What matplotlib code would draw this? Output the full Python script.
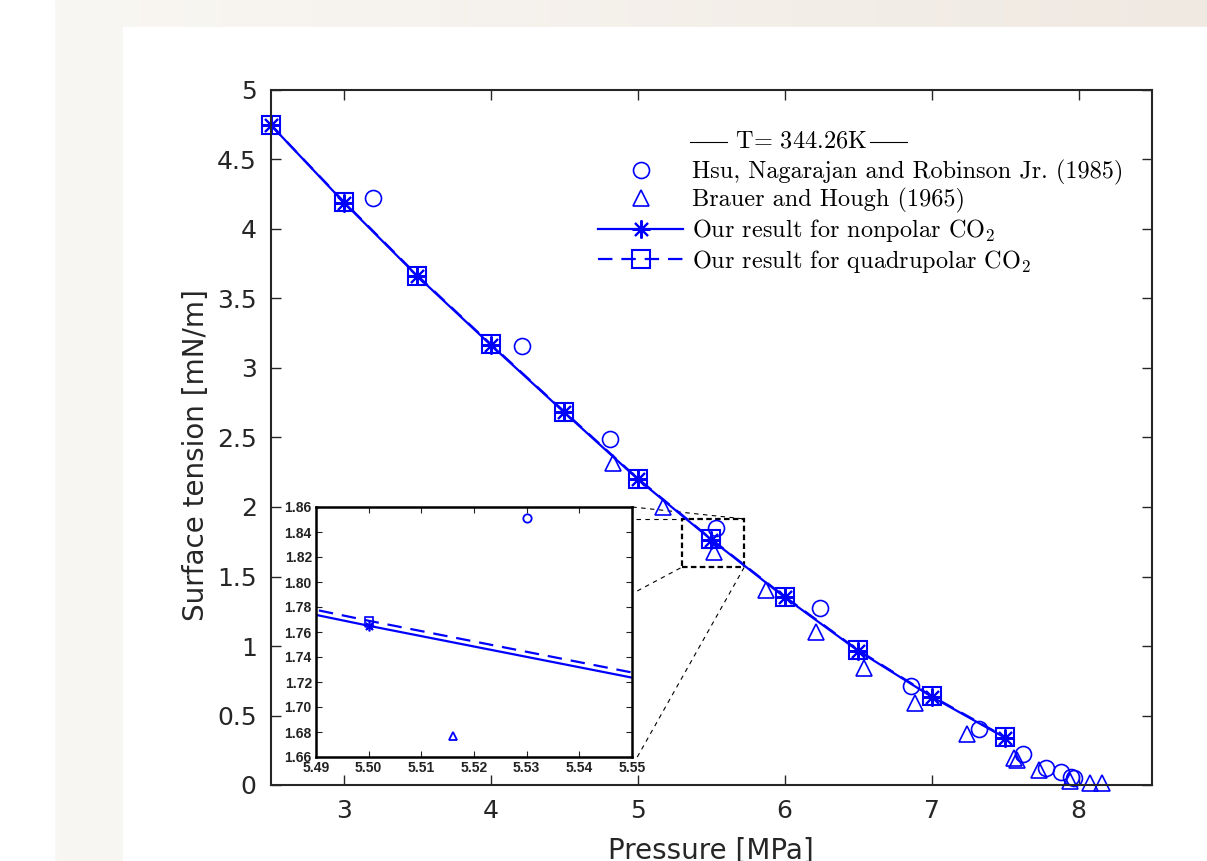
"""Surface tension of CO2 vs pressure at T = 344.26 K, with zoomed inset."""
import matplotlib.pyplot as plt
import numpy as np
from matplotlib.patches import Rectangle
from matplotlib.ticker import FormatStrFormatter

plt.rcParams["mathtext.fontset"] = "cm"
plt.rcParams["axes.unicode_minus"] = False

# simulation results
p_sim = [2.5, 3.0, 3.5, 4.0, 4.5, 5.0, 5.5, 6.0, 6.5, 7.0, 7.5]
st_nonpolar = [4.75, 4.19, 3.66, 3.165, 2.68, 2.20, 1.765, 1.35, 0.965, 0.635, 0.34]
st_quad = [4.75, 4.195, 3.665, 3.17, 2.685, 2.205, 1.769, 1.355, 0.97, 0.64, 0.345]

# Hsu, Nagarajan and Robinson Jr. (1985)
p_hsu = [3.20, 4.21, 4.81, 5.53, 6.24, 6.86, 7.32, 7.62, 7.78, 7.88, 7.95, 7.97]
st_hsu = [4.22, 3.16, 2.49, 1.851, 1.27, 0.71, 0.40, 0.22, 0.12, 0.09, 0.055, 0.048]

# Brauer and Hough (1965)
p_brauer = [4.83, 5.17, 5.516, 5.87, 6.21, 6.54, 6.89, 7.24, 7.56, 7.58, 7.73, 7.94, 8.08, 8.16]
st_brauer = [2.32, 2.0, 1.677, 1.40, 1.10, 0.84, 0.59, 0.37, 0.195, 0.18, 0.11, 0.03, 0.017, 0.017]

labels = [
    "Hsu, Nagarajan and Robinson Jr. (1985)",
    "Brauer and Hough (1965)",
    r"Our result for nonpolar CO$_2$",
    r"Our result for quadrupolar CO$_2$",
]
title = r"$\mathrm{T}\!=\,344.26\mathrm{K}$"

blue = (0, 0, 1)
grey = "#262626"
serif = ["cmr10", "DejaVu Serif"]
asterisk = (8, 2, 0)

W, H = 1207, 861
fig = plt.figure(figsize=(W / 100, H / 100), dpi=100)

# page background: beige frame around a white panel
bg = fig.add_axes([0, 0, 1, 1], zorder=-10)
grad = np.linspace(0, 1, 256)
img = np.zeros((2, 256, 3))
img[:, :, 0] = 249 - 9 * grad
img[:, :, 1] = 247 - 14 * grad
img[:, :, 2] = 243 - 17 * grad
bg.imshow(img / 255, extent=[54, W, 0, H], aspect="auto")
bg.add_patch(Rectangle((0, 0), 54, H, color="white"))
bg.add_patch(Rectangle((123, 0), W - 123, H - 27, color="white"))
bg.set_xlim(0, W)
bg.set_ylim(0, H)
bg.axis("off")

ax = fig.add_axes([270.6 / W, 1 - 785 / H, 881.4 / W, 695 / H])
ax.plot(p_hsu, st_hsu, "o", color=blue, mfc="none", ms=11.5, mew=1.2, ls="none",
        clip_on=False, label=labels[0])
ax.plot(p_brauer, st_brauer, "^", color=blue, mfc="none", ms=12, mew=1.2, ls="none",
        clip_on=False, label=labels[1])
ax.plot(p_sim, st_nonpolar, "-", marker=asterisk, color=blue, ms=13, mew=1.5, lw=1.6,
        clip_on=False, label=labels[2])
ax.plot(p_sim, st_quad, "--", marker="s", color=blue, mfc="none", ms=13, mew=1.5, lw=1.6,
        dashes=(6.5, 4), clip_on=False, label=labels[3])

ax.set_xlim(2.5, 8.5)
ax.set_ylim(0, 5)
ax.set_xticks(range(3, 9))
ax.set_yticks(np.arange(0, 5.01, 0.5))
ax.yaxis.set_major_formatter(FormatStrFormatter("%g"))
ax.tick_params(direction="in", top=True, right=True, length=7, width=1.0, colors=grey,
               labelsize=18, pad=10)
for s in ax.spines.values():
    s.set_color(grey)
    s.set_linewidth(1.5)
ax.set_xlabel("Pressure [MPa]", fontsize=20, color=grey, labelpad=10)
ax.set_ylabel("Surface tension [mN/m]", fontsize=20, color=grey)
ax.yaxis.set_label_coords(-0.069, 0.475)

# legend title with rules on both sides
ax.text(0.5268, 0.9266, title, transform=ax.transAxes, ha="left", va="center",
        family=serif, fontsize=17.5)
ax.plot([0.4758, 0.5178], [0.9252, 0.9252], transform=ax.transAxes, color="black", lw=0.8)
ax.plot([0.6800, 0.7220], [0.9252, 0.9252], transform=ax.transAxes, color="black", lw=0.8)
leg = ax.legend(loc="upper left", bbox_to_anchor=(0.3715, 0.900), frameon=False,
                borderpad=0, borderaxespad=0, handlelength=3.5, handletextpad=0.35,
                labelspacing=0.15, prop={"family": serif, "size": 17.5})

# zoom rectangle and connector lines (drawn in data coords)
ax.add_patch(Rectangle((5.302, 1.568), 0.423, 0.346, fill=False, ec="black",
                       lw=1.6, ls=(0, (2.5, 1.5)), zorder=1))
conn = dict(color="black", lw=0.8, ls=(0, (4, 4)), clip_on=False, zorder=1)
ax.plot([4.962, 5.725], [2.0, 1.914], **conn)
ax.plot([4.989, 5.302], [1.914, 1.914], **conn)
ax.plot([4.996, 5.302], [1.396, 1.568], **conn)
ax.plot([4.996, 5.725], [0.201, 1.568], **conn)

# inset
axin = fig.add_axes([316 / W, 1 - 757 / H, 316 / W, 250 / H])
axin.plot(p_hsu, st_hsu, "o", color=blue, mfc="none", ms=6, mew=1.3, ls="none")
axin.plot(p_brauer, st_brauer, "^", color=blue, mfc="none", ms=6, mew=1.3, ls="none")
axin.plot(p_sim, st_nonpolar, "-", marker=asterisk, color=blue, ms=7, mew=1.2, lw=1.6)
axin.plot(p_sim, st_quad, "--", marker="s", color=blue, mfc="none", ms=6, mew=1.2, lw=1.6,
          dashes=(6.5, 4))
axin.set_xlim(5.49, 5.55)
axin.set_ylim(1.66, 1.86)
axin.set_xticks(np.arange(5.49, 5.5501, 0.01))
axin.set_yticks(np.arange(1.66, 1.8601, 0.02))
axin.xaxis.set_major_formatter(FormatStrFormatter("%.2f"))
axin.yaxis.set_major_formatter(FormatStrFormatter("%.2f"))
axin.tick_params(direction="in", top=True, right=True, length=4, width=0.8, pad=3,
                 labelsize=10, colors="#222222")
for lab in axin.get_xticklabels() + axin.get_yticklabels():
    lab.set_fontweight("bold")
    lab.set_family("Liberation Sans")
for s in axin.spines.values():
    s.set_linewidth(1.8)
    s.set_color("black")

fig.savefig("out.png", dpi=100)
